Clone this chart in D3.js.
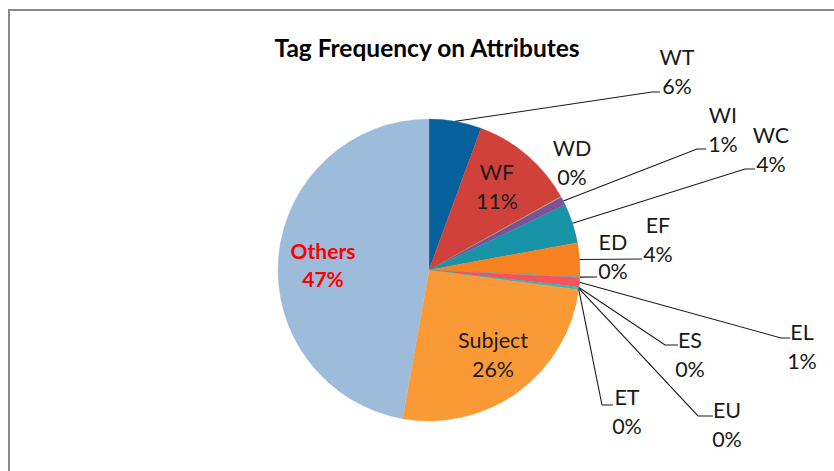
<!DOCTYPE html>
<html>
<head>
<meta charset="utf-8">
<script src="https://cdn.jsdelivr.net/npm/d3@7"></script>
<style>
  html, body { margin: 0; padding: 0; background: #fff; }
  svg { display: block; }
  text { font-family: Lato, "Open Sans", sans-serif; }
</style>
</head>
<body>
<svg id="chart" width="834" height="471"></svg>
<script>
// ---- data ----
const title = "Tag Frequency on Attributes";
const categories = ["WT", "WF", "WD", "WI", "WC", "EF", "ED", "EL", "ES", "EU", "ET", "Subject", "Others"];
const values     = [5.6, 11.3, 0.1, 0.9, 4.2, 3.6, 0.1, 1.0, 0.1, 0.1, 0.1, 25.7, 47.2];
const colors     = ["#07619d", "#d0413b", "#9bbb59", "#7d5098", "#1893a8", "#f7801f", "#4bacc6",
                    "#f8525b", "#2fb0b0", "#2fb0b0", "#2fb0b0", "#fa9a36", "#9dbbdb"];

// ---- layout (positions of labels & leader-line bends, not data) ----
const cx = 429, cy = 270, R = 151;
const labelLayout = {
  WT:      {x: 677, y: 57,  leader: [[652, 92], [660, 92]]},
  WF:      {x: 497, y: 172, inside: true},
  WD:      {x: 572, y: 148},
  WI:      {x: 723, y: 115, leader: [[697, 149], [706, 149]]},
  WC:      {x: 771, y: 135, leader: [[745, 169], [755, 169]]},
  EF:      {x: 658, y: 225, leader: [[642, 259]]},
  ED:      {x: 613, y: 242, leader: [[597, 277]]},
  EL:      {x: 802, y: 332, leader: [[781, 338], [790, 338]]},
  ES:      {x: 690, y: 340, leader: [[665, 345], [678, 345]]},
  EU:      {x: 727, y: 410, leader: [[698, 416], [713, 416]]},
  ET:      {x: 627, y: 397, leader: [[602, 405], [613, 405]]},
  Subject: {x: 493, y: 340, inside: true},
  Others:  {x: 323, y: 250, inside: true, color: "#ff0000", bold: true}
};

const svg = d3.select("#chart");

// frame
svg.append("rect")
  .attr("x", 9).attr("y", 10)
  .attr("width", 900).attr("height", 600)
  .attr("fill", "#fff")
  .attr("stroke", "#8a8a8a")
  .attr("stroke-width", 2);

// title
svg.append("text")
  .attr("x", 427).attr("y", 47)
  .attr("text-anchor", "middle")
  .attr("dominant-baseline", "central")
  .attr("font-size", 24.5)
  .attr("font-weight", "bold")
  .attr("fill", "#000")
  .text(title);

const data = categories.map((c, i) => ({name: c, value: values[i], color: colors[i]}));
const pie = d3.pie().sort(null).value(d => d.value);
const arcs = pie(data);
const arc = d3.arc().innerRadius(0).outerRadius(R);

const g = svg.append("g").attr("transform", `translate(${cx},${cy})`);
g.selectAll("path.slice")
  .data(arcs)
  .join("path")
  .attr("class", "slice")
  .attr("d", arc)
  .attr("fill", d => d.data.color)
  .attr("stroke", d => d.data.color)
  .attr("stroke-width", 0.3);

const total = d3.sum(values);
const pct = v => Math.round(v / total * 100) + "%";

// leader lines
const lineGen = d3.line();
arcs.forEach(a => {
  const L = labelLayout[a.data.name];
  if (!L || !L.leader) return;
  const mid = (a.startAngle + a.endAngle) / 2;
  const start = [cx + R * Math.sin(mid), cy - R * Math.cos(mid)];
  svg.append("path")
    .attr("d", lineGen([start, ...L.leader]))
    .attr("fill", "none")
    .attr("stroke", "#1a1a1a")
    .attr("stroke-width", 1.1);
});

// labels
arcs.forEach(a => {
  const L = labelLayout[a.data.name];
  if (!L) return;
  const t = svg.append("text")
    .attr("text-anchor", "middle")
    .attr("font-size", L.bold ? 21 : 21.5)
    .attr("font-weight", L.bold ? "bold" : "normal")
    .attr("fill", L.color || "#1a1a1a");
  t.append("tspan").attr("x", L.x).attr("y", L.y)
    .attr("dominant-baseline", "central").text(a.data.name);
  t.append("tspan").attr("x", L.x).attr("y", L.y + 28.5)
    .attr("dominant-baseline", "central").text(pct(a.data.value));
});
</script>
</body>
</html>
